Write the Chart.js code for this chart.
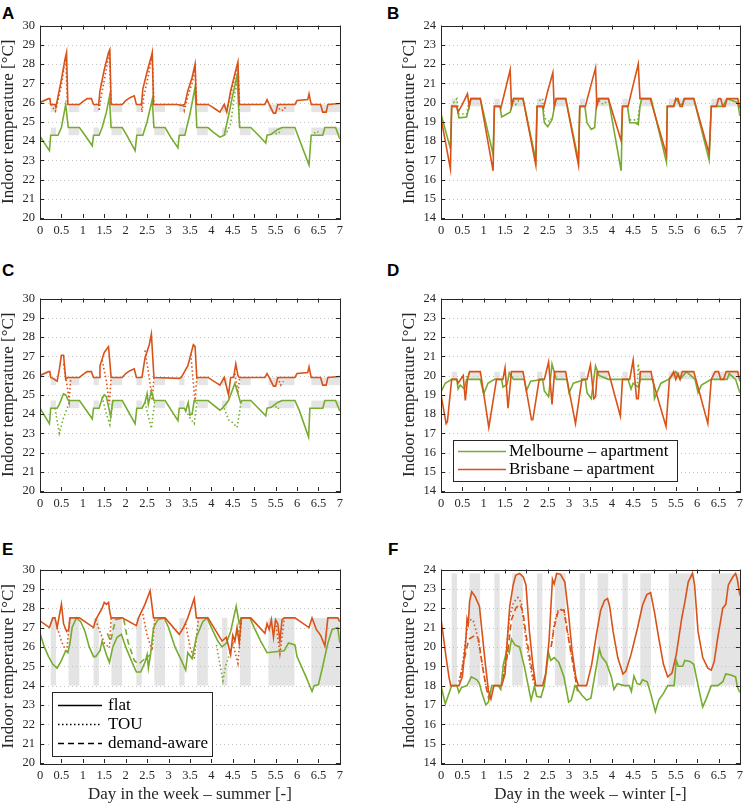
<!DOCTYPE html>
<html>
<head>
<meta charset="utf-8">
<script src="https://cdn.jsdelivr.net/npm/chart.js@4"></script>
<style>
  body { margin: 0; background: #fff; width: 748px; height: 804px; overflow: hidden; position: relative; }
  canvas { position: absolute; }
  .tag { position: absolute; font: bold 17px "Liberation Sans", Arial, sans-serif; line-height: 1; color: #000; }
</style>
</head>
<body>
<div class="tag" style="left:2px;top:5px">A</div>
<div class="tag" style="left:387px;top:5px">B</div>
<div class="tag" style="left:2px;top:262px">C</div>
<div class="tag" style="left:387px;top:262px">D</div>
<div class="tag" style="left:2px;top:541px">E</div>
<div class="tag" style="left:388px;top:541px">F</div>
<script>
const ORANGE = '#D95319'
const GREEN = '#77AC30'
const DOT = [1.5, 2.5]
const DASH = [6, 4]
const SERIF = '"Liberation Serif", "Times New Roman", serif'

// occupied hours (days): weekday mornings/evenings, weekend daytime
const occupied = [[0.25, 0.375], [0.667, 0.917], [1.25, 1.375], [1.667, 1.917], [2.25, 2.375], [2.667, 2.917],
  [3.25, 3.375], [3.667, 3.917], [4.25, 4.375], [4.667, 4.917], [5.333, 5.94], [6.333, 7]]

// ---- A: summer, apartment ----
const aBrisFlat = [[0,26.0],[0.2,26.2],[0.23,26.2],[0.25,25.9],[0.35,25.9],[0.37,25.75],[0.42,26.3],[0.5,27.2],[0.58,28.2],[0.62,28.6],[0.65,25.9],[0.92,25.9],[1.0,26.05],[1.1,26.2],[1.2,26.2],[1.25,25.9],[1.37,25.9],[1.4,26.6],[1.5,27.7],[1.6,28.6],[1.63,28.75],[1.66,25.9],[1.92,25.9],[2.0,26.1],[2.1,26.25],[2.2,26.35],[2.25,25.9],[2.37,25.9],[2.4,26.7],[2.5,27.6],[2.6,28.4],[2.62,28.6],[2.65,25.9],[3.2,25.9],[3.3,25.85],[3.38,25.9],[3.45,26.6],[3.55,27.3],[3.62,28.0],[3.65,25.9],[3.92,25.9],[4.0,25.8],[4.1,25.65],[4.2,25.5],[4.3,25.9],[4.36,25.5],[4.45,26.6],[4.55,27.5],[4.62,28.1],[4.65,25.9],[5.25,25.9],[5.3,26.15],[5.35,25.9],[5.45,25.45],[5.5,25.45],[5.55,25.9],[5.95,25.9],[6.0,26.1],[6.25,26.15],[6.28,26.45],[6.33,25.9],[6.55,25.9],[6.6,25.5],[6.68,25.5],[6.72,25.9],[7,25.95]]
const aBrisTou = [[0.25,25.9],[0.36,25.55],[0.4,25.9],[0.5,26.9],[0.6,28.4],[0.64,25.9],null,[1.37,25.9],[1.38,25.55],[1.42,26.2],[1.52,27.4],[1.62,28.6],[1.66,25.9],null,[2.37,25.9],[2.38,25.5],[2.42,26.3],[2.52,27.3],[2.62,28.5],[2.66,25.9],null,[3.35,25.85],[3.37,25.6],[3.45,26.3],[3.55,27.0],[3.62,27.8],[3.66,25.9],null,[4.36,25.6],[4.45,26.4],[4.55,27.3],[4.62,28.0],[4.66,25.9],null,[5.55,25.9],[5.6,25.6],[5.7,25.6],[5.75,25.9]]
const aMelFlat = [[0,24.25],[0.1,23.9],[0.22,23.5],[0.25,24.3],[0.42,24.3],[0.5,24.7],[0.6,25.9],[0.66,24.7],[0.92,24.7],[1.05,24.3],[1.22,23.75],[1.25,24.3],[1.38,24.3],[1.45,24.7],[1.55,25.5],[1.62,26.3],[1.66,24.7],[1.92,24.7],[2.05,24.2],[2.22,23.5],[2.26,24.3],[2.4,24.3],[2.5,25.0],[2.62,26.15],[2.66,24.7],[2.92,24.7],[3.05,24.2],[3.22,23.65],[3.25,24.3],[3.38,24.3],[3.5,25.4],[3.62,26.8],[3.66,24.7],[3.92,24.7],[4.05,24.45],[4.2,24.2],[4.3,24.3],[4.4,25.3],[4.5,26.4],[4.6,27.4],[4.66,24.7],[4.92,24.7],[5.1,24.3],[5.27,23.9],[5.3,24.3],[5.4,24.35],[5.55,24.6],[5.65,24.7],[5.95,24.7],[6.05,24.1],[6.28,22.75],[6.33,24.3],[6.6,24.3],[6.65,24.7],[6.9,24.7],[7,24.1]]
const aMelTou = [[4.3,24.3],[4.35,24.4],[4.45,24.9],[4.55,26.5],[4.62,27.2],[4.66,24.7],null,[5.5,24.4],[5.55,24.35],[5.6,24.5],[5.65,24.55],null,[6.4,24.4],[6.45,24.5],[6.5,24.45]]

// ---- B: winter, apartment ----
const bBrisFlat = [[0,19.2],[0.22,16.55],[0.25,19.8],[0.37,19.8],[0.4,19.5],[0.5,19.9],[0.62,20.45],[0.66,19.8],[0.7,20.2],[0.92,20.2],[1.22,16.45],[1.25,19.8],[1.38,19.8],[1.4,19.7],[1.5,20.6],[1.62,21.7],[1.65,19.8],[1.7,20.2],[1.92,20.2],[2.22,16.75],[2.25,19.8],[2.38,19.8],[2.4,19.7],[2.5,20.6],[2.62,21.55],[2.65,19.8],[2.7,20.2],[2.92,20.2],[3.22,16.75],[3.25,19.8],[3.38,19.8],[3.5,20.8],[3.62,21.8],[3.65,19.8],[3.7,20.2],[3.92,20.2],[4.22,18.0],[4.25,19.8],[4.38,19.8],[4.5,20.9],[4.62,22.0],[4.66,20.2],[4.9,20.2],[5.28,17.3],[5.3,19.8],[5.45,19.8],[5.5,20.2],[5.55,20.2],[5.6,19.8],[5.65,19.8],[5.7,20.2],[5.92,20.2],[6.28,17.35],[6.33,19.8],[6.45,19.8],[6.5,20.2],[6.55,20.2],[6.6,19.8],[6.65,19.8],[6.7,20.2],[6.95,20.2],[7,19.7]]
const bMelFlat = [[0,19.4],[0.22,17.6],[0.25,19.8],[0.37,19.8],[0.42,19.2],[0.6,19.25],[0.66,19.8],[0.7,20.2],[0.92,20.2],[1.22,17.3],[1.25,19.8],[1.38,19.8],[1.42,19.25],[1.62,19.5],[1.66,19.8],[1.7,20.2],[1.92,20.2],[2.22,17.0],[2.25,19.8],[2.38,19.8],[2.42,18.95],[2.5,18.75],[2.6,19.1],[2.66,19.8],[2.7,20.2],[2.92,20.2],[3.22,17.0],[3.25,19.8],[3.37,19.8],[3.42,18.95],[3.52,18.6],[3.6,18.7],[3.65,20.2],[3.92,20.2],[4.22,16.45],[4.25,19.8],[4.37,19.8],[4.42,18.95],[4.55,18.95],[4.62,18.85],[4.66,19.8],[4.7,20.2],[4.92,20.2],[5.28,16.9],[5.3,19.8],[5.45,19.8],[5.5,20.2],[5.6,19.9],[5.65,19.9],[5.7,20.2],[5.92,20.2],[6.28,17.0],[6.33,19.8],[6.6,19.8],[6.65,20.0],[6.7,20.2],[6.95,20.0],[7,19.3]]
const bMelTou = [[0.25,19.8],[0.3,20.0],[0.37,20.2],[0.42,19.4],[0.6,19.4],[0.66,20.1],null,[1.7,20.1],[1.75,19.9],[1.85,20.2],null,[2.3,20.1],[2.38,20.2],[2.42,19.2],[2.55,19.0],[2.62,19.3],null,[3.7,20.1],[3.8,19.9],[3.9,20.1],null,[4.42,19.1],[4.55,19.1],[4.6,18.95],[4.66,19.9]]

// ---- C: summer, house ----
const cBrisFlat = [[0,26.0],[0.2,26.2],[0.23,26.2],[0.25,25.9],[0.3,25.85],[0.4,25.7],[0.45,26.3],[0.5,27.05],[0.55,27.05],[0.6,25.8],[0.65,25.9],[0.92,25.9],[1.0,26.05],[1.1,26.2],[1.2,26.2],[1.25,25.9],[1.38,25.9],[1.4,26.5],[1.5,27.2],[1.6,27.5],[1.66,25.9],[1.92,25.9],[2.0,26.1],[2.1,26.25],[2.2,26.35],[2.25,25.9],[2.38,25.9],[2.45,26.9],[2.55,27.6],[2.6,28.15],[2.66,25.9],[3.25,25.85],[3.3,25.9],[3.4,26.3],[3.45,26.5],[3.58,27.6],[3.62,27.5],[3.66,25.9],[3.92,25.9],[4.2,25.5],[4.3,25.9],[4.4,25.0],[4.45,25.9],[4.52,25.9],[4.57,26.6],[4.62,26.0],[4.65,25.9],[5.25,25.9],[5.3,26.1],[5.35,25.9],[5.45,25.45],[5.5,25.45],[5.55,25.9],[5.95,25.9],[6.0,26.1],[6.25,26.15],[6.28,26.45],[6.33,25.9],[6.55,25.9],[6.6,25.5],[6.68,25.5],[6.72,25.9],[7,25.95]]
const cBrisTou = [[0.55,26.6],[0.6,25.9],[0.65,25.2],[0.68,24.7],[0.72,25.9],null,[1.45,26.8],[1.55,25.7],[1.62,24.5],[1.66,25.9],null,[2.45,27.3],[2.55,25.9],[2.62,24.7],[2.66,25.9],null,[3.52,27.1],[3.58,25.6],[3.62,24.6],[3.66,25.9],null,[4.55,26.1],[4.62,25.1],[4.66,25.9],null,[5.55,25.9],[5.62,25.5],[5.68,25.7]]
const cMelFlat = [[0,24.3],[0.22,23.5],[0.25,24.3],[0.4,24.3],[0.45,24.5],[0.55,25.05],[0.6,25.0],[0.66,24.7],[0.92,24.7],[1.22,23.75],[1.25,24.3],[1.38,24.3],[1.45,24.8],[1.5,25.0],[1.55,24.9],[1.65,23.85],[1.7,24.7],[1.92,24.7],[2.22,23.5],[2.26,24.3],[2.38,24.3],[2.45,24.6],[2.5,25.05],[2.53,24.5],[2.6,25.2],[2.66,24.7],[2.92,24.7],[3.22,23.65],[3.25,24.3],[3.37,24.3],[3.4,24.15],[3.46,24.6],[3.5,23.95],[3.55,24.0],[3.6,24.7],[3.92,24.7],[4.2,24.2],[4.26,24.3],[4.4,24.7],[4.55,25.6],[4.68,24.6],[4.72,24.7],[4.92,24.7],[5.27,23.9],[5.3,24.3],[5.4,24.35],[5.55,24.6],[5.65,24.7],[5.95,24.7],[6.05,24.2],[6.27,22.8],[6.3,24.3],[6.6,24.3],[6.65,24.7],[6.9,24.7],[7,24.15]]
const cMelTou = [[0.35,24.3],[0.45,23.0],[0.55,23.8],[0.7,24.7],null,[1.45,24.9],[1.55,24.0],[1.63,23.45],[1.7,24.7],null,[2.45,24.6],[2.55,23.7],[2.6,23.25],[2.68,24.7],null,[3.4,24.2],[3.5,23.8],[3.6,23.5],[3.66,24.6],null,[4.3,24.3],[4.4,23.7],[4.5,23.55],[4.6,23.3],[4.7,24.7],null,[5.5,24.4],[5.55,24.25],[5.6,24.4]]

// ---- D: winter, house ----
const dBrisFlat = [[0,19.0],[0.12,17.5],[0.15,17.6],[0.25,19.8],[0.37,19.8],[0.4,19.6],[0.52,20.0],[0.57,18.7],[0.62,19.8],[0.67,20.2],[0.92,20.2],[0.95,19.8],[1.12,17.3],[1.3,19.8],[1.45,19.8],[1.5,20.4],[1.57,18.3],[1.65,20.2],[1.92,20.2],[2.12,17.7],[2.15,17.7],[2.3,19.8],[2.42,19.8],[2.52,20.7],[2.6,18.5],[2.66,20.2],[2.92,20.2],[2.95,19.8],[3.15,17.5],[3.3,19.8],[3.42,19.8],[3.5,20.55],[3.58,18.8],[3.62,18.9],[3.66,20.2],[3.92,20.2],[4.2,17.9],[4.25,19.8],[4.42,19.8],[4.5,20.8],[4.58,18.8],[4.62,18.8],[4.67,20.2],[4.92,20.2],[4.95,19.8],[5.27,17.35],[5.35,19.8],[5.45,20.2],[5.5,19.8],[5.55,20.1],[5.6,19.8],[5.65,20.2],[5.92,20.2],[6.25,17.5],[6.33,19.8],[6.42,20.2],[6.5,20.2],[6.55,19.8],[6.62,19.8],[6.68,20.2],[6.95,20.2],[7,19.7]]
const dMelFlat = [[0,19.15],[0.1,19.6],[0.25,19.8],[0.37,19.8],[0.4,19.3],[0.45,19.5],[0.55,19.3],[0.6,19.8],[0.92,19.8],[1.0,19.05],[1.1,19.6],[1.25,19.8],[1.42,19.8],[1.45,19.4],[1.55,19.55],[1.6,20.15],[1.7,19.8],[1.95,19.8],[2.0,19.2],[2.1,19.7],[2.38,19.8],[2.42,19.2],[2.52,18.9],[2.6,20.6],[2.7,19.8],[2.95,19.8],[3.0,19.1],[3.1,19.6],[3.38,19.8],[3.42,19.1],[3.52,18.8],[3.62,20.5],[3.7,20.0],[3.92,19.8],[4.38,19.8],[4.45,19.3],[4.5,19.6],[4.62,19.4],[4.67,19.8],[4.97,19.8],[5.0,18.8],[5.15,19.6],[5.33,19.8],[5.5,20.2],[5.6,19.8],[5.75,20.2],[5.95,19.8],[6.02,19.1],[6.1,19.5],[6.33,19.8],[6.7,19.8],[6.75,20.1],[6.9,19.8],[7,19.1]]
const dMelTou = [[0.6,19.9],[0.65,20.1],[0.72,20.1],null,[4.6,19.6],[4.62,20.6],[4.66,19.9]]

// ---- E: summer, house with tariffs ----
const eBrisFlat = [[0,27.35],[0.22,27.0],[0.3,27.5],[0.35,27.5],[0.4,27.0],[0.5,28.2],[0.55,27.2],[0.62,26.8],[0.67,26.9],[0.7,27.5],[0.92,27.5],[1.25,27.0],[1.3,27.4],[1.45,28.0],[1.5,28.3],[1.55,28.2],[1.6,28.3],[1.63,27.8],[1.66,27.5],[1.92,27.5],[2.25,27.1],[2.3,27.5],[2.45,28.2],[2.57,28.9],[2.65,27.5],[2.92,27.5],[3.25,26.65],[3.35,27.0],[3.45,27.5],[3.6,28.5],[3.65,27.5],[3.92,27.5],[4.25,26.3],[4.35,26.5],[4.45,25.6],[4.5,26.6],[4.55,26.3],[4.6,27.0],[4.65,26.2],[4.7,27.5],[4.92,27.5],[5.25,26.7],[5.3,27.2],[5.35,26.9],[5.4,27.4],[5.45,26.5],[5.5,27.4],[5.55,27.2],[5.6,26.3],[5.65,27.4],[5.7,27.5],[5.95,27.5],[6.28,27.0],[6.35,27.5],[6.45,26.9],[6.55,26.6],[6.65,26.05],[6.72,27.5],[6.95,27.5],[7,27.3]]
const eBrisTou = [[0.4,27.0],[0.5,26.3],[0.62,25.7],[0.7,27.5],null,[1.3,27.4],[1.38,26.9],[1.5,26.2],[1.62,25.95],[1.66,27.5],null,[2.4,27.7],[2.5,26.6],[2.62,25.8],[2.68,27.5],null,[3.4,27.2],[3.5,26.0],[3.6,25.4],[3.7,27.5],null,[4.5,26.2],[4.62,25.15],[4.7,27.3],null,[5.5,27.3],[5.6,25.65],[5.7,27.4]]
const eMelFlat = [[0,26.7],[0.1,26.0],[0.2,25.5],[0.3,25.1],[0.4,24.9],[0.5,25.3],[0.6,25.8],[0.65,25.7],[0.7,26.2],[0.75,27.0],[0.85,27.5],[0.95,27.3],[1.05,26.8],[1.15,26.0],[1.25,25.5],[1.3,25.5],[1.4,25.8],[1.45,26.3],[1.55,25.6],[1.62,25.2],[1.7,26.0],[1.8,26.5],[1.9,26.65],[2.0,26.0],[2.15,25.2],[2.25,24.7],[2.35,24.7],[2.45,25.2],[2.5,25.6],[2.53,24.9],[2.58,25.6],[2.65,27.0],[2.75,27.4],[2.9,27.5],[3.0,27.0],[3.15,26.0],[3.3,25.3],[3.4,24.8],[3.45,25.7],[3.55,25.4],[3.65,26.5],[3.8,27.3],[3.9,27.5],[4.0,27.0],[4.15,26.3],[4.25,26.0],[4.35,26.2],[4.45,26.8],[4.58,28.1],[4.65,27.2],[4.7,27.5],[4.9,27.5],[5.0,27.0],[5.15,26.3],[5.3,25.7],[5.5,25.75],[5.7,25.8],[5.8,26.2],[5.95,26.1],[6.0,25.5],[6.2,24.5],[6.35,23.7],[6.4,24.0],[6.5,24.05],[6.6,25.0],[6.72,26.2],[6.82,26.9],[6.95,27.0],[7,26.2]]
const eMelTou = [[4.12,26.1],[4.2,25.1],[4.27,24.25],[4.33,25.0],[4.45,25.8],[4.55,26.4],[4.65,26.9],[4.7,27.5]]
const eMelDem = [[1.57,26.7],[1.65,26.3],[1.7,26.8],[1.76,27.4],[1.95,27.5],[2.05,26.3],[2.2,25.3],[2.3,25.1],[2.45,25.4],[2.58,25.6]]

// ---- F: winter, house with tariffs ----
const fBrisFlat = [[0,21.45],[0.04,20.8],[0.12,19.45],[0.19,18.4],[0.23,18.0],[0.42,18.0],[0.5,18.45],[0.58,20.3],[0.61,21.45],[0.64,21.2],[0.67,22.35],[0.72,22.85],[0.8,22.6],[0.9,22.1],[0.96,20.8],[1.04,19.1],[1.11,17.75],[1.17,17.3],[1.24,18.0],[1.42,18.0],[1.5,18.6],[1.55,20.3],[1.61,22.1],[1.69,23.2],[1.75,23.7],[1.84,23.8],[1.93,23.6],[1.99,23.2],[2.07,20.8],[2.15,19.1],[2.22,18.0],[2.38,18.0],[2.45,18.6],[2.53,20.3],[2.61,23.5],[2.65,23.25],[2.71,23.8],[2.8,23.75],[2.9,23.35],[2.99,21.65],[3.07,19.8],[3.16,18.4],[3.22,18.0],[3.41,18.0],[3.53,19.1],[3.64,20.65],[3.74,21.9],[3.83,22.4],[3.9,22.5],[3.95,22.1],[4.03,20.8],[4.14,19.45],[4.26,18.6],[4.33,18.75],[4.45,19.6],[4.6,20.95],[4.72,22.15],[4.82,22.7],[4.91,22.8],[5.0,21.8],[5.1,20.45],[5.21,19.1],[5.31,18.45],[5.41,18.65],[5.51,19.6],[5.64,21.5],[5.71,22.3],[5.79,23.35],[5.89,23.8],[5.94,23.2],[6.02,20.8],[6.13,19.45],[6.25,18.9],[6.33,18.8],[6.4,19.25],[6.48,20.45],[6.6,22.0],[6.67,22.2],[6.73,23.2],[6.83,23.6],[6.9,23.8],[6.94,23.5],[7,22.65]]
const fBrisTou = [[0.42,18.2],[0.5,19.0],[0.57,20.3],[0.65,21.4],[0.75,21.4],[0.85,20.6],[0.95,19.3],[1.05,18.0],[1.12,17.5],[1.2,17.9],null,[1.45,18.3],[1.52,19.5],[1.6,21.5],[1.7,22.3],[1.8,22.55],[1.88,22.3],[1.95,21.0],[2.05,19.5],[2.15,18.3],[2.22,18.0],null,[2.58,20.0],[2.65,21.2],[2.75,21.95],[2.88,21.9],[2.98,20.6],[3.1,19.0],[3.2,17.8]]
const fBrisDem = [[0.45,18.4],[0.55,19.4],[0.65,20.4],[0.8,20.6],[0.88,20.4],[0.97,19.0],[1.05,18.0],[1.12,17.3],[1.2,17.6],null,[1.45,18.3],[1.55,19.5],[1.65,21.4],[1.75,22.0],[1.85,22.2],[1.92,21.8],[2.0,20.5],[2.1,19.2],[2.2,18.0],null,[2.58,20.0],[2.65,21.0],[2.75,21.9],[2.88,21.9],[2.98,20.5],[3.1,19.0],[3.2,17.7]]
const fMelFlat = [[0,18.0],[0.1,17.05],[0.21,17.75],[0.25,18.0],[0.37,18.0],[0.42,17.65],[0.48,17.9],[0.61,18.0],[0.71,18.45],[0.84,18.3],[0.9,18.1],[0.96,17.6],[1.05,17.0],[1.11,17.15],[1.19,18.0],[1.34,18.0],[1.4,17.8],[1.46,19.1],[1.55,19.9],[1.6,19.7],[1.65,20.4],[1.73,20.1],[1.84,20.0],[1.96,18.9],[2.11,17.25],[2.19,17.95],[2.24,17.45],[2.34,17.4],[2.42,18.0],[2.52,19.7],[2.57,19.3],[2.65,19.45],[2.76,19.2],[2.88,18.45],[2.99,17.15],[3.05,17.25],[3.14,18.0],[3.3,17.5],[3.41,17.25],[3.51,17.35],[3.62,18.75],[3.71,19.9],[3.76,19.5],[3.87,19.2],[3.99,18.45],[4.05,17.8],[4.13,18.1],[4.29,18.0],[4.41,18.0],[4.46,17.7],[4.52,18.5],[4.59,18.1],[4.66,18.05],[4.72,18.3],[4.83,18.2],[4.91,17.6],[5.02,16.65],[5.1,17.25],[5.21,17.6],[5.31,18.0],[5.46,18.0],[5.51,19.3],[5.56,19.0],[5.66,19.0],[5.71,19.3],[5.83,19.25],[5.92,19.1],[5.98,18.45],[6.06,17.6],[6.13,16.9],[6.21,17.3],[6.33,18.0],[6.48,18.0],[6.6,18.2],[6.67,18.6],[6.79,18.55],[6.9,18.45],[6.94,17.95],[7,17.65]]

const yTitle = 'Indoor temperature [°C]'

const panels = [
  { area: [40, 23, 345, 218], yRange: [20, 30], bandY: [[25.5, 25.9], [24.3, 24.7]],
    series: [[aBrisFlat, ORANGE, []], [aMelFlat, GREEN, []], [aBrisTou, ORANGE, DOT], [aMelTou, GREEN, DOT]] },
  { area: [441, 23, 745, 218], yRange: [14, 24], bandY: [[19.8, 20.2]],
    series: [[bBrisFlat, ORANGE, []], [bMelFlat, GREEN, []], [bMelTou, GREEN, DOT]] },
  { area: [40, 296, 345, 491], yRange: [20, 30], bandY: [[25.5, 25.9], [24.3, 24.7]],
    series: [[cBrisFlat, ORANGE, []], [cMelFlat, GREEN, []], [cBrisTou, ORANGE, DOT], [cMelTou, GREEN, DOT]] },
  { area: [441, 296, 745, 491], yRange: [14, 24], bandY: [[19.8, 20.2]],
    series: [[dBrisFlat, ORANGE, []], [dMelFlat, GREEN, []], [dMelTou, GREEN, DOT]],
    legend: { x: 12, y: 141, w: 224, h: 41, rows: [11, 29], line: [5, 53], text: 56,
      items: [['Melbourne – apartment', GREEN, []], ['Brisbane – apartment', ORANGE, []]] } },
  { area: [40, 567, 345, 763], yRange: [20, 30], bandY: [[24, 27.5]], xTitle: 'Day in the week – summer [-]',
    series: [[eBrisFlat, ORANGE, []], [eMelFlat, GREEN, []], [eBrisTou, ORANGE, DOT], [eMelTou, GREEN, DOT], [eMelDem, GREEN, DASH]],
    legend: { x: 12, y: 122, w: 160, h: 64, rows: [13, 32, 51], line: [6, 50], text: 56,
      items: [['flat', '#000', []], ['TOU', '#000', DOT], ['demand-aware', '#000', DASH]] } },
  { area: [441, 567, 745, 763], yRange: [14, 24], bandY: [[18, 23.8]], xTitle: 'Day in the week – winter [-]',
    series: [[fBrisFlat, ORANGE, []], [fMelFlat, GREEN, []], [fBrisTou, ORANGE, DOT], [fBrisDem, ORANGE, DASH]] }
]

function toPoints(arr) {
  const out = []
  let lastX = 0
  for (const p of arr) {
    if (p === null) out.push({ x: lastX, y: null })
    else { out.push({ x: p[0], y: p[1] }); lastX = p[0] }
  }
  return out
}

// bands + dotted grid under the lines, box + inward ticks + legend on top
const frame = {
  id: 'frame',
  beforeDatasetsDraw(chart, args, opts) {
    const { ctx, chartArea: a, scales: { x, y } } = chart
    ctx.save()
    ctx.fillStyle = '#e4e4e4'
    for (const [lo, hi] of opts.bandY) {
      for (const [x0, x1] of occupied) {
        const px0 = x.getPixelForValue(x0), px1 = x.getPixelForValue(x1)
        const py0 = y.getPixelForValue(hi), py1 = y.getPixelForValue(lo)
        ctx.fillRect(px0, py0, px1 - px0, py1 - py0)
      }
    }
    ctx.strokeStyle = '#c4c4c4'
    ctx.lineWidth = 1
    ctx.setLineDash([1, 3])
    for (const t of y.ticks) {
      if (t.value <= y.min || t.value >= y.max) continue
      const py = Math.round(y.getPixelForValue(t.value)) + 0.5
      ctx.beginPath(); ctx.moveTo(a.left, py); ctx.lineTo(a.right, py); ctx.stroke()
    }
    ctx.restore()
  },
  afterDraw(chart, args, opts) {
    const { ctx, chartArea: a, scales: { x, y } } = chart
    ctx.save()
    ctx.strokeStyle = '#262626'
    ctx.lineWidth = 1
    ctx.beginPath()
    for (const t of x.ticks) {
      const px = Math.round(x.getPixelForValue(t.value)) + 0.5
      ctx.moveTo(px, a.bottom); ctx.lineTo(px, a.bottom - 4)
      ctx.moveTo(px, a.top); ctx.lineTo(px, a.top + 4)
    }
    for (const t of y.ticks) {
      const py = Math.round(y.getPixelForValue(t.value)) + 0.5
      ctx.moveTo(a.left, py); ctx.lineTo(a.left + 4, py)
      ctx.moveTo(a.right, py); ctx.lineTo(a.right - 4, py)
    }
    ctx.stroke()
    ctx.strokeRect(Math.round(a.left) + 0.5, Math.round(a.top) + 0.5, Math.round(a.right - a.left), Math.round(a.bottom - a.top))

    const lg = opts.legend
    if (lg) {
      const bx = Math.round(a.left) + lg.x, by = Math.round(a.top) + lg.y
      ctx.fillStyle = '#fff'
      ctx.fillRect(bx, by, lg.w, lg.h)
      ctx.strokeStyle = '#262626'
      ctx.strokeRect(bx + 0.5, by + 0.5, lg.w, lg.h)
      ctx.font = '17px ' + SERIF
      ctx.textBaseline = 'middle'
      lg.items.forEach(([label, color, dash], i) => {
        const cy = by + lg.rows[i] + 0.5
        ctx.strokeStyle = color
        ctx.lineWidth = 1.6
        ctx.setLineDash(dash)
        ctx.beginPath(); ctx.moveTo(bx + lg.line[0], cy); ctx.lineTo(bx + lg.line[1], cy); ctx.stroke()
        ctx.setLineDash([])
        ctx.fillStyle = '#000'
        ctx.fillText(label, bx + lg.text, cy)
      })
    }
    ctx.restore()
  }
}

for (const p of panels) {
  const [L, T, R, B] = p.area
  const padTop = 10
  const yW = 42
  const xH = p.xTitle ? 42 : 24
  const cv = document.createElement('canvas')
  const left = L - yW, top = T - padTop
  cv.width = R + 3 - left
  cv.height = B + xH - top
  cv.style.left = left + 'px'
  cv.style.top = top + 'px'
  cv.style.width = cv.width + 'px'
  cv.style.height = cv.height + 'px'
  document.body.appendChild(cv)

  new Chart(cv, {
    type: 'line',
    data: {
      datasets: p.series.map(([arr, color, dash]) => ({
        data: toPoints(arr),
        borderColor: color,
        borderWidth: 1.6,
        borderDash: dash,
        pointRadius: 0,
        tension: 0,
        spanGaps: false,
        fill: false
      }))
    },
    options: {
      responsive: false,
      animation: false,
      events: [],
      layout: { padding: { top: padTop, right: 3, left: 0, bottom: 0 } },
      plugins: {
        legend: { display: false },
        tooltip: { enabled: false },
        frame: { bandY: p.bandY, legend: p.legend }
      },
      scales: {
        x: {
          type: 'linear', min: 0, max: 7,
          grid: { display: false, drawTicks: false },
          border: { display: false },
          ticks: { stepSize: 0.5, autoSkip: false, maxRotation: 0, padding: 5, color: '#262626',
            font: { family: SERIF, size: 12.5 }, callback: v => String(v) },
          title: { display: !!p.xTitle, text: p.xTitle || '', color: '#262626', padding: 0, font: { family: SERIF, size: 17 } },
          afterFit: s => { s.height = xH }
        },
        y: {
          min: p.yRange[0], max: p.yRange[1],
          grid: { display: false, drawTicks: false },
          border: { display: false },
          ticks: { stepSize: 1, padding: 5, color: '#262626', font: { family: SERIF, size: 12.5 } },
          title: { display: true, text: yTitle, color: '#262626', padding: 0, font: { family: SERIF, size: 17 } },
          afterFit: s => { s.width = yW }
        }
      }
    },
    plugins: [frame]
  })
}
</script>
</body>
</html>
